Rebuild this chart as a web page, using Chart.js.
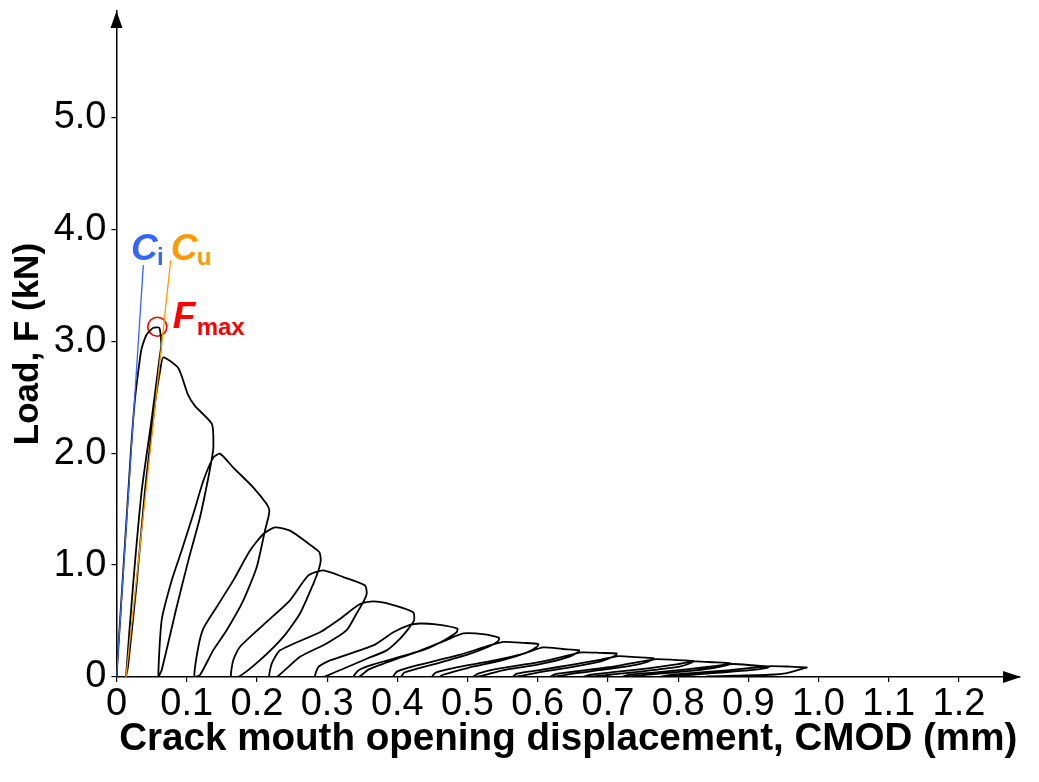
<!DOCTYPE html>
<html>
<head>
<meta charset="utf-8">
<title>Load vs CMOD</title>
<script src="https://cdn.jsdelivr.net/npm/chart.js@4"></script>
<style>
    body { margin: 0; background: #fff; }
    canvas { display: block; }
</style>
</head>
<body>
<canvas id="chart" width="1039" height="782"></canvas>
<script>
// Cyclic load - CMOD curve, one line per loading cycle
const cmodValues = [
    0, 0.0202, 0.0264, 0.0335, 0.036, 0.043, 0.0525, 0.061, 0.0638, 0.0613, 0.05, 0.0359, 0.0238, 0.0135,
    0.0165, 0.0287, 0.0405, 0.055, 0.0625, 0.0667, 0.088, 0.102, 0.112, 0.136, 0.138, 0.136, 0.1308, 0.1189, 0.1023, 0.0857, 0.0643, 0.0596,
    0.0643, 0.0786, 0.0928, 0.1094, 0.1237, 0.1379, 0.1474, 0.1664, 0.195, 0.2139, 0.2177, 0.2163, 0.2115, 0.1997, 0.1807, 0.1569, 0.1379, 0.1189, 0.1109,
    0.1166, 0.1237, 0.1427, 0.1664, 0.1902, 0.2092, 0.2258, 0.2472, 0.2709, 0.289, 0.2909, 0.2876, 0.2804, 0.2614, 0.2376, 0.2044, 0.1735, 0.1631,
    0.1664, 0.176, 0.2139, 0.2471, 0.2733, 0.2946, 0.3231, 0.354, 0.3564, 0.3516, 0.342, 0.3278, 0.2993, 0.2614, 0.2282, 0.2177,
    0.2211, 0.233, 0.2899, 0.3183, 0.3468, 0.3658, 0.3895, 0.4227, 0.4238, 0.4157, 0.4037, 0.3848, 0.3564, 0.3231, 0.2946, 0.2828,
    0.2875, 0.3041, 0.3658, 0.3943, 0.418, 0.4323, 0.455, 0.4856, 0.4845, 0.47, 0.445, 0.4, 0.36, 0.345, 0.3373,
    0.345, 0.365, 0.43, 0.47, 0.4941, 0.525, 0.5449, 0.5435, 0.53, 0.5, 0.45, 0.41, 0.405, 0.394,
    0.4, 0.425, 0.49, 0.525, 0.5511, 0.58, 0.6008, 0.599, 0.585, 0.55, 0.5, 0.465, 0.46, 0.449,
    0.455, 0.48, 0.54, 0.58, 0.6077, 0.635, 0.6589, 0.657, 0.64, 0.6, 0.55, 0.52, 0.508,
    0.515, 0.54, 0.6, 0.635, 0.6625, 0.69, 0.7125, 0.71, 0.69, 0.65, 0.6, 0.575, 0.565,
    0.57, 0.6, 0.65, 0.69, 0.7149, 0.74, 0.7656, 0.762, 0.745, 0.7, 0.655, 0.63, 0.618,
    0.625, 0.66, 0.71, 0.745, 0.7694, 0.795, 0.8217, 0.818, 0.8, 0.755, 0.71, 0.68, 0.665,
    0.675, 0.71, 0.76, 0.8, 0.8241, 0.85, 0.8749, 0.87, 0.85, 0.81, 0.765, 0.735, 0.72,
    0.73, 0.765, 0.815, 0.855, 0.8787, 0.905, 0.9298, 0.925, 0.9, 0.86, 0.82, 0.79, 0.775,
    0.785, 0.82, 0.87, 0.91, 0.9333, 0.96, 0.9832, 0.975, 0.955, 0.93, 0.88, 0.84
];
const loadValues = [
    0, 1.99, 2.49, 2.85, 2.94, 3.06, 3.12, 3.12, 2.97, 2.85, 2.3, 1.664, 0.835, 0,
    0.1, 0.835, 1.664, 2.45, 2.75, 2.856, 2.76, 2.52, 2.42, 2.26, 2.05, 1.96, 1.78, 1.425, 1.04, 0.625, 0.06, 0,
    0.507, 0.863, 1.13, 1.456, 1.753, 1.96, 1.996, 1.871, 1.693, 1.545, 1.486, 1.427, 1.308, 0.981, 0.685, 0.418, 0.24, 0.018, 0,
    0.27, 0.433, 0.626, 0.863, 1.13, 1.278, 1.337, 1.308, 1.204, 1.115, 1.04, 0.952, 0.833, 0.567, 0.359, 0.151, 0, 0,
    0.151, 0.27, 0.492, 0.685, 0.908, 0.952, 0.893, 0.818, 0.745, 0.671, 0.567, 0.418, 0.3, 0.181, 0, 0,
    0.119, 0.238, 0.4, 0.519, 0.652, 0.676, 0.652, 0.578, 0.504, 0.43, 0.341, 0.238, 0.163, 0.074, 0, 0,
    0.089, 0.148, 0.282, 0.4, 0.466, 0.478, 0.47, 0.433, 0.4, 0.34, 0.26, 0.165, 0.07, 0, 0,
    0.06, 0.11, 0.23, 0.33, 0.389, 0.38, 0.35, 0.32, 0.27, 0.2, 0.11, 0.04, 0, 0,
    0.05, 0.1, 0.2, 0.27, 0.314, 0.305, 0.294, 0.27, 0.22, 0.15, 0.08, 0.02, 0, 0,
    0.04, 0.08, 0.15, 0.21, 0.264, 0.25, 0.24, 0.22, 0.17, 0.11, 0.06, 0.01, 0,
    0.03, 0.07, 0.13, 0.18, 0.22, 0.215, 0.21, 0.19, 0.14, 0.09, 0.04, 0.01, 0,
    0.03, 0.06, 0.11, 0.155, 0.187, 0.178, 0.167, 0.15, 0.115, 0.07, 0.035, 0.01, 0,
    0.025, 0.055, 0.095, 0.135, 0.16, 0.153, 0.143, 0.125, 0.09, 0.055, 0.025, 0.005, 0,
    0.02, 0.045, 0.08, 0.115, 0.14, 0.132, 0.122, 0.105, 0.08, 0.05, 0.025, 0.005, 0,
    0.02, 0.04, 0.07, 0.1, 0.116, 0.105, 0.092, 0.08, 0.06, 0.04, 0.02, 0.005, 0,
    0.015, 0.035, 0.06, 0.085, 0.098, 0.092, 0.086, 0.07, 0.035, 0.02, 0.012, 0.005
];

// compliance lines and peak
const ciCmod = [0, 0.0382];
const ciLoad = [0, 3.68];
const cuCmod = [0.0135, 0.0772];
const cuLoad = [0, 3.725];
const fmaxCmod = [0.0581];
const fmaxLoad = [3.13];

const xTickValues = [0, 0.1, 0.2, 0.3, 0.4, 0.5, 0.6, 0.7, 0.8, 0.9, 1.0, 1.1, 1.2];
const xTickLabels = ['0', '0.1', '0.2', '0.3', '0.4', '0.5', '0.6', '0.7', '0.8', '0.9', '1.0', '1.1', '1.2'];
const yTickValues = [0, 1, 2, 3, 4, 5];
const yTickLabels = ['0', '1.0', '2.0', '3.0', '4.0', '5.0'];

const xTitle = 'Crack mouth opening displacement, CMOD (mm)';
const yTitle = 'Load, F (kN)';

const fontName = '"Liberation Sans", Arial, sans-serif';
const blue = '#3366ff';
const orange = '#ff9900';
const red = '#ff0000';

function toPoints(xs, ys) {
    return xs.map((x, i) => ({ x: x, y: ys[i] }));
}

// big label with a smaller subscript next to it, placed in data units
const curveLabels = [
    { big: 'C', small: 'i', color: blue, x: 0.0207, y: 3.725, smallX: 0.0577, smallY: 3.68 },
    { big: 'C', small: 'u', color: orange, x: 0.0772, y: 3.725, smallX: 0.1142, smallY: 3.68 },
    { big: 'F', small: 'max', color: red, x: 0.08, y: 3.116, smallX: 0.1142, smallY: 3.06 }
];

const decorations = {
    id: 'decorations',
    afterDraw(chart) {
        const ctx = chart.ctx;
        const area = chart.chartArea;
        const xScale = chart.scales.x;
        const yScale = chart.scales.y;

        ctx.save();
        ctx.fillStyle = '#000';
        // arrow heads at the axis ends
        ctx.beginPath();
        ctx.moveTo(area.right + 1, area.bottom);
        ctx.lineTo(area.right - 17, area.bottom - 6);
        ctx.lineTo(area.right - 17, area.bottom + 6);
        ctx.closePath();
        ctx.fill();
        ctx.beginPath();
        ctx.moveTo(area.left, area.top);
        ctx.lineTo(area.left - 6, area.top + 17);
        ctx.lineTo(area.left + 6, area.top + 17);
        ctx.closePath();
        ctx.fill();

        curveLabels.forEach(label => {
            ctx.fillStyle = label.color;
            ctx.textBaseline = 'alphabetic';
            ctx.textAlign = 'left';
            ctx.font = 'italic bold 37px ' + fontName;
            ctx.fillText(label.big, xScale.getPixelForValue(label.x), yScale.getPixelForValue(label.y));
            ctx.font = 'bold 24px ' + fontName;
            ctx.fillText(label.small, xScale.getPixelForValue(label.smallX), yScale.getPixelForValue(label.smallY));
        });
        ctx.restore();
    }
};

new Chart(document.getElementById('chart'), {
    type: 'scatter',
    data: {
        datasets: [
            { data: toPoints(ciCmod, ciLoad), showLine: true, borderColor: blue, borderWidth: 1.3, pointRadius: 0 },
            { data: toPoints(cuCmod, cuLoad), showLine: true, borderColor: orange, borderWidth: 1.3, pointRadius: 0 },
            { data: toPoints(cmodValues, loadValues), showLine: true, borderColor: '#000', borderWidth: 1.8, pointRadius: 0, tension: 0.2 },
            { data: toPoints(fmaxCmod, fmaxLoad), pointRadius: 9.5, pointBorderColor: red, pointBackgroundColor: 'rgba(0,0,0,0)', pointBorderWidth: 1.6 }
        ]
    },
    options: {
        responsive: false,
        animation: false,
        devicePixelRatio: 1,
        layout: { padding: { top: 8, right: 19, left: 0, bottom: 0 } },
        plugins: { legend: { display: false }, tooltip: { enabled: false } },
        scales: {
            x: {
                type: 'linear',
                min: 0,
                max: 1.287,
                afterFit(scale) { scale.height = 105; scale.paddingLeft = 0; scale.paddingRight = 0; },
                afterBuildTicks(scale) { scale.ticks = xTickValues.map(v => ({ value: v })); },
                border: { color: '#000', width: 1.5 },
                grid: { drawOnChartArea: false, drawTicks: true, tickLength: 5, color: '#000', lineWidth: 1.2 },
                ticks: {
                    color: '#000',
                    font: { family: fontName, size: 38 },
                    padding: 0,
                    maxRotation: 0,
                    autoSkip: false,
                    callback: (value, i) => xTickLabels[i]
                },
                title: { display: true, text: xTitle, color: '#000', font: { family: fontName, size: 38.6, weight: 'bold' }, padding: { bottom: 19 } }
            },
            y: {
                type: 'linear',
                min: 0,
                max: 5.95,
                afterFit(scale) { scale.width = 116.5; scale.paddingTop = 0; scale.paddingBottom = 0; },
                afterBuildTicks(scale) { scale.ticks = yTickValues.map(v => ({ value: v })); },
                border: { color: '#000', width: 1.5 },
                grid: { drawOnChartArea: false, drawTicks: true, tickLength: 5, color: '#000', lineWidth: 1.2 },
                ticks: {
                    color: '#000',
                    font: { family: fontName, size: 38 },
                    padding: 5,
                    autoSkip: false,
                    callback: (value, i) => yTickLabels[i]
                },
                title: { display: true, text: yTitle, color: '#000', font: { family: fontName, size: 35, weight: 'bold' }, padding: { top: 7 } }
            }
        }
    },
    plugins: [decorations]
});
</script>
</body>
</html>
